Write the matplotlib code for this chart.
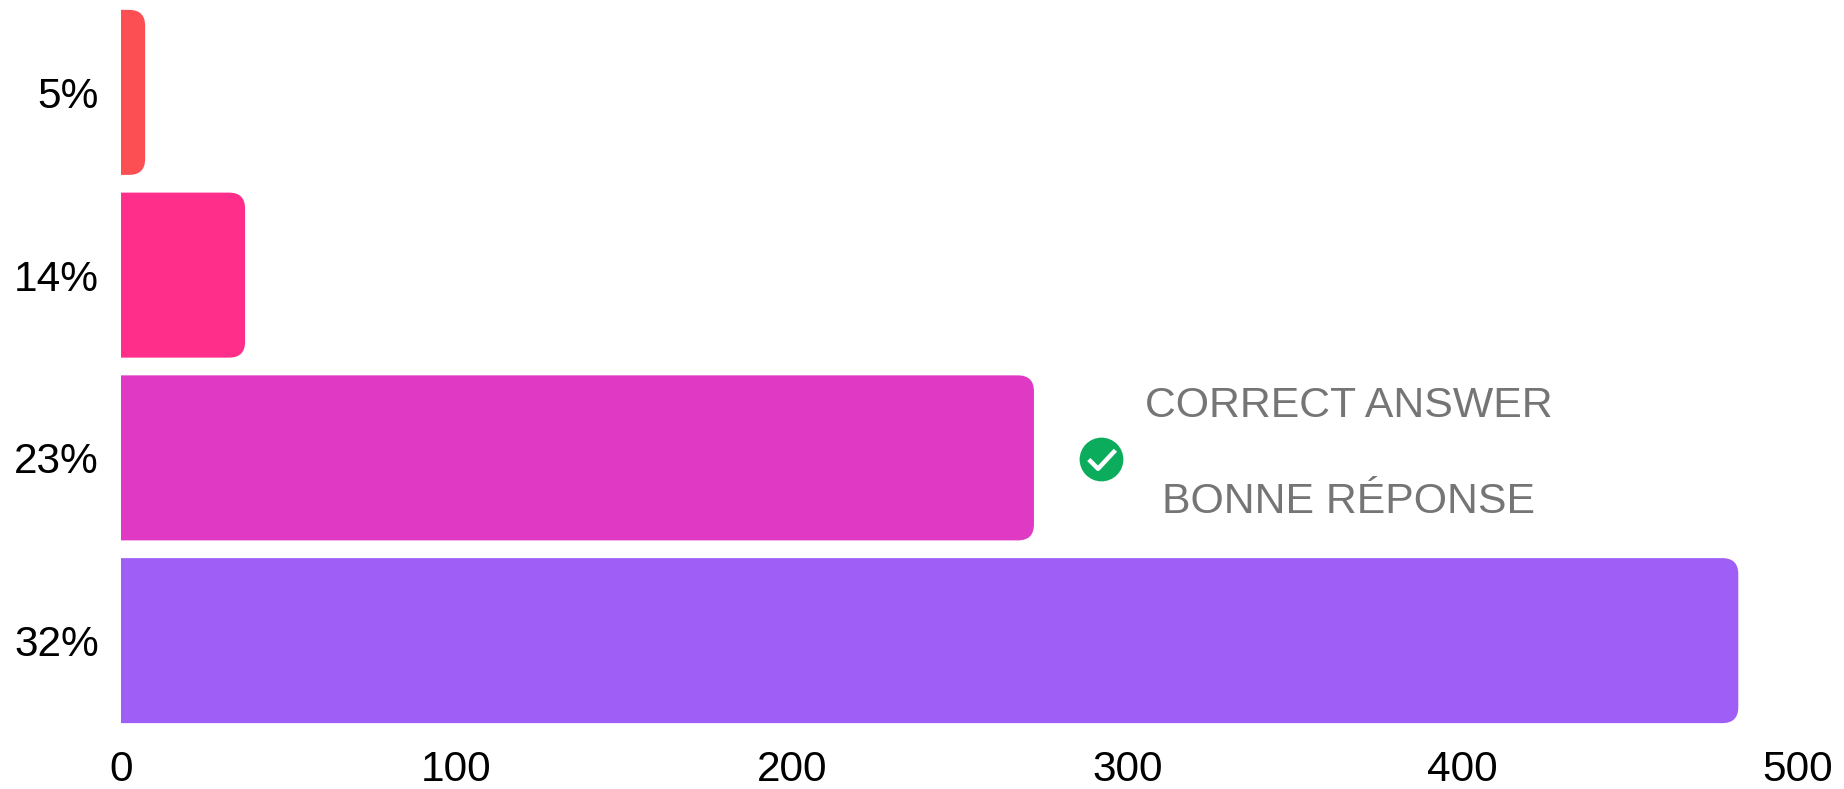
import matplotlib
matplotlib.use("Agg")
import matplotlib.pyplot as plt
from matplotlib.path import Path
from matplotlib.patches import PathPatch

plt.rcParams['font.family'] = ['Liberation Sans', 'DejaVu Sans']

# values, top bar first
labels = ["5%", "14%", "23%", "32%"]
values = [7.2, 37, 272.2, 482.2]
colors = ["#FB4F53", "#FF2E8B", "#E039C4", "#9F5FF7"]
x_ticks = [0, 100, 200, 300, 400, 500]

correct_x = 292.3
correct_y = 2.006
note_x = 366
note_lines = ["CORRECT ANSWER", "BONNE RÉPONSE"]
note_y = [1.776, 2.30]

bar_height = 0.903
corner_px = 16

W, H = 1844, 789
fig = plt.figure(figsize=(W / 100, H / 100), dpi=100)
ax = fig.add_axes([121 / W, 1 - 732 / H, (1798 - 121) / W, (732 - 1) / H])
ax.set_xlim(0, 500)
ax.set_ylim(3.5, -0.5)

# corner radius in data units on each axis
rx = corner_px * 500 / (1798 - 121)
ry = corner_px * 4 / (732 - 1)


def rounded_bar(y, value, color):
    # only the right end of the bar is rounded
    top = y - bar_height / 2
    bottom = y + bar_height / 2
    r = min(rx, value)
    verts = [(0, top), (value - r, top), (value, top), (value, top + ry),
             (value, bottom - ry), (value, bottom), (value - r, bottom),
             (0, bottom), (0, top)]
    codes = [Path.MOVETO, Path.LINETO, Path.CURVE3, Path.CURVE3,
             Path.LINETO, Path.CURVE3, Path.CURVE3,
             Path.LINETO, Path.CLOSEPOLY]
    ax.add_patch(PathPatch(Path(verts, codes), facecolor=color, edgecolor="none"))


for i in range(len(values)):
    rounded_bar(i, values[i], colors[i])

ax.set_yticks(range(len(labels)))
ax.set_yticklabels(labels)
ax.set_xticks(x_ticks)
ax.tick_params(axis="x", length=0, pad=13, labelsize=30.5, labelcolor="black")
ax.tick_params(axis="y", length=0, pad=16, labelsize=30.5, labelcolor="black")
for spine in ax.spines.values():
    spine.set_visible(False)

# green tick icon next to the correct bar
check = Path([(-0.55, 0.0), (-0.15, -0.4), (0.6, 0.4)])
ax.plot([correct_x], [correct_y], marker="o", markersize=31.5, color="#0BAD5C",
        markeredgewidth=0, linestyle="none", clip_on=False)
ax.plot([correct_x], [correct_y], marker=check, markersize=20, markerfacecolor="none",
        markeredgecolor="white", markeredgewidth=3.2, linestyle="none", clip_on=False)

for line, y in zip(note_lines, note_y):
    ax.text(note_x, y, line, ha="center", va="baseline", fontsize=30.8, color="#757575")

fig.savefig("out.png", dpi=100, facecolor="white")
